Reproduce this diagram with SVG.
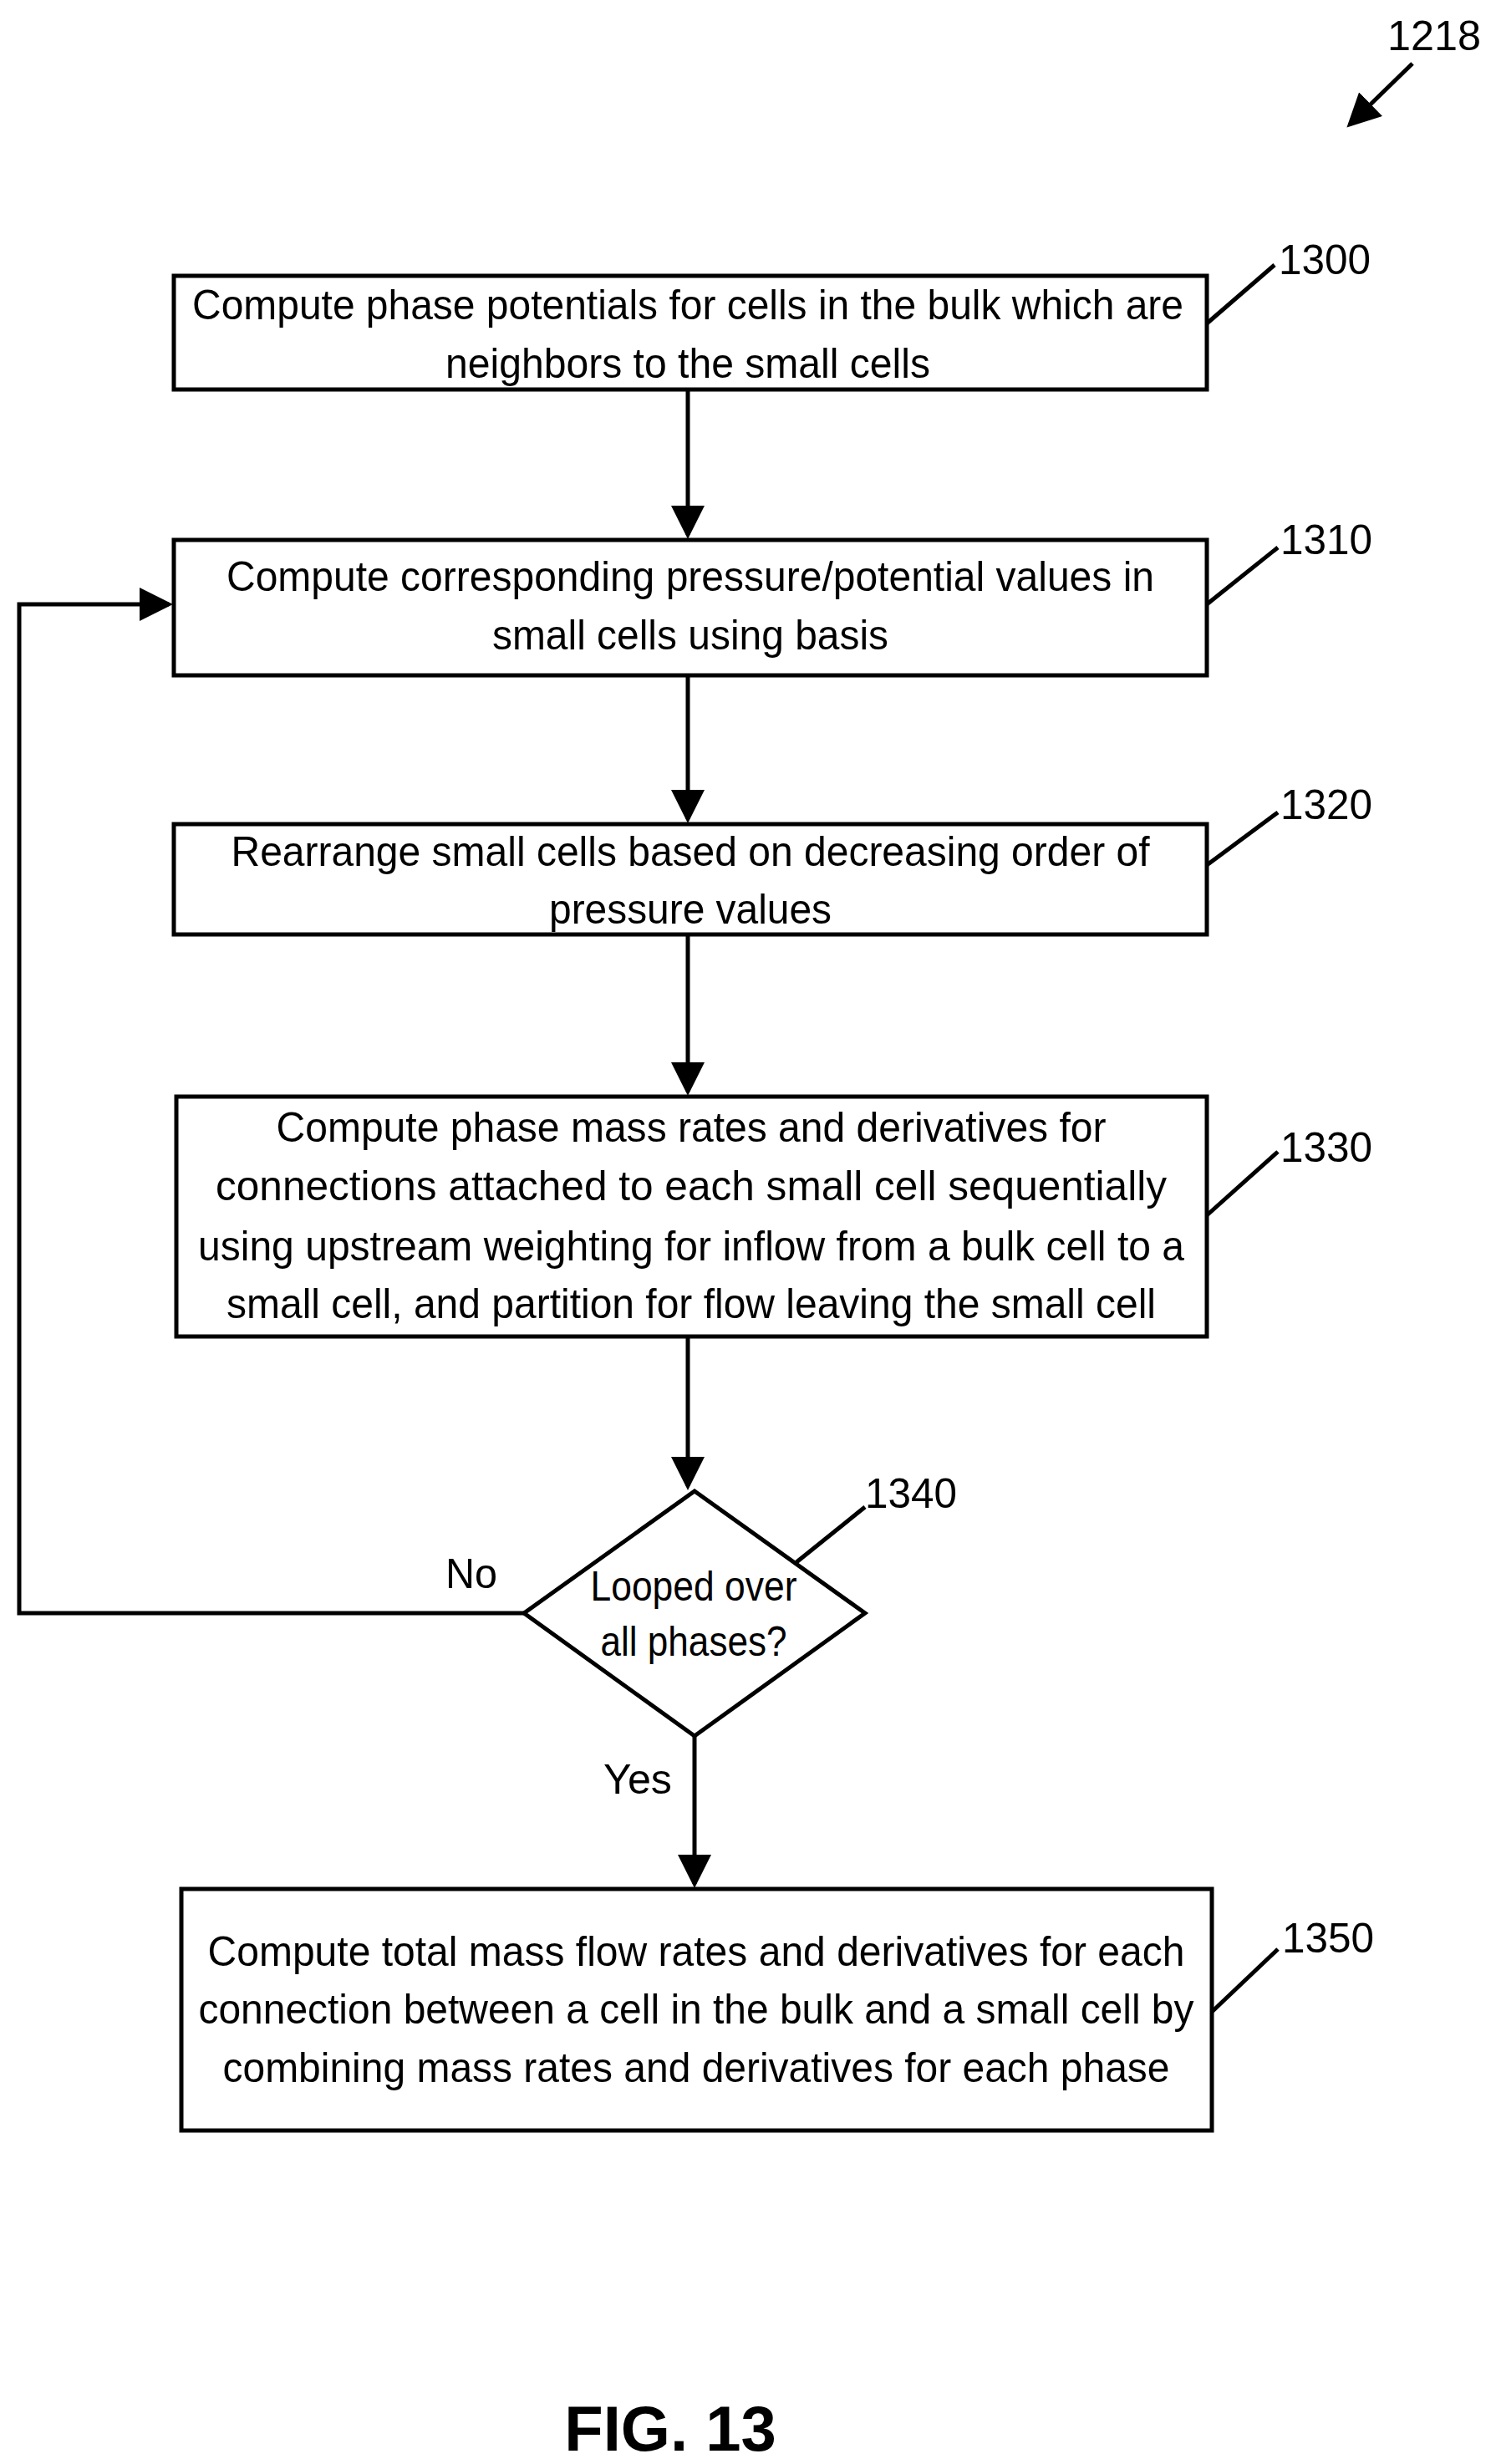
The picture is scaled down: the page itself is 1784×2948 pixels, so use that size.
<svg xmlns="http://www.w3.org/2000/svg" width="1784" height="2948" viewBox="0 0 1784 2948">
<style>
.b{fill:#fff;stroke:#000;stroke-width:5}
.t{font-family:"Liberation Sans",Arial,sans-serif;font-size:50px;text-anchor:middle}
.r{font-family:"Liberation Sans",Arial,sans-serif;font-size:50px}
.l{fill:none;stroke:#000;stroke-width:5}
</style>
<defs><marker id="a" markerWidth="8" markerHeight="8" refX="7" refY="4" orient="auto" markerUnits="strokeWidth"><path d="M0,0 L8,4 L0,8 Z" fill="#000"/></marker></defs>
<g id="connectors">
<line class="l" x1="823" y1="466" x2="823" y2="640" marker-end="url(#a)"/>
<line class="l" x1="823" y1="808" x2="823" y2="980" marker-end="url(#a)"/>
<line class="l" x1="823" y1="1118" x2="823" y2="1306" marker-end="url(#a)"/>
<line class="l" x1="823" y1="1599" x2="823" y2="1778" marker-end="url(#a)"/>
<line class="l" x1="831" y1="2077" x2="831" y2="2254" marker-end="url(#a)"/>
<polyline class="l" points="627,1930 23,1930 23,723 202,723" marker-end="url(#a)"/>
<line class="l" x1="1444" y1="387" x2="1525" y2="317"/>
<line class="l" x1="1444" y1="723" x2="1529" y2="655"/>
<line class="l" x1="1444" y1="1035" x2="1529" y2="972"/>
<line class="l" x1="1444" y1="1454" x2="1529" y2="1378"/>
<line class="l" x1="953" y1="1869" x2="1035" y2="1803"/>
<line class="l" x1="1450" y1="2407" x2="1529" y2="2332"/>
<line class="l" x1="1690" y1="76" x2="1615" y2="149" marker-end="url(#a)"/>
<text class="r" x="533" y="1900" textLength="62" lengthAdjust="spacingAndGlyphs">No</text>
<text class="r" x="722" y="2146" textLength="82" lengthAdjust="spacingAndGlyphs">Yes</text>
</g>
<text class="r" x="1660" y="60" textLength="112" lengthAdjust="spacingAndGlyphs">1218</text>
<g id="n1300"><rect class="b" x="208" y="330" width="1236" height="136"/>
<text class="t" x="823" y="382" textLength="1186" lengthAdjust="spacingAndGlyphs">Compute phase potentials for cells in the bulk which are</text>
<text class="t" x="823" y="452" textLength="580" lengthAdjust="spacingAndGlyphs">neighbors to the small cells</text>
<text class="r" x="1530" y="328" textLength="110" lengthAdjust="spacingAndGlyphs">1300</text></g>
<g id="n1310"><rect class="b" x="208" y="646" width="1236" height="162"/>
<text class="t" x="826" y="707" textLength="1110" lengthAdjust="spacingAndGlyphs">Compute corresponding pressure/potential values in</text>
<text class="t" x="826" y="777" textLength="474" lengthAdjust="spacingAndGlyphs">small cells using basis</text>
<text class="r" x="1532" y="663" textLength="110" lengthAdjust="spacingAndGlyphs">1310</text></g>
<g id="n1320"><rect class="b" x="208" y="986" width="1236" height="132"/>
<text class="t" x="826" y="1036" textLength="1099" lengthAdjust="spacingAndGlyphs">Rearrange small cells based on decreasing order of</text>
<text class="t" x="826" y="1105" textLength="338" lengthAdjust="spacingAndGlyphs">pressure values</text>
<text class="r" x="1532" y="980" textLength="110" lengthAdjust="spacingAndGlyphs">1320</text></g>
<g id="n1330"><rect class="b" x="211" y="1312" width="1233" height="287"/>
<text class="t" x="827" y="1366" textLength="993" lengthAdjust="spacingAndGlyphs">Compute phase mass rates and derivatives for</text>
<text class="t" x="827" y="1436" textLength="1138" lengthAdjust="spacingAndGlyphs">connections attached to each small cell sequentially</text>
<text class="t" x="827" y="1508" textLength="1180" lengthAdjust="spacingAndGlyphs">using upstream weighting for inflow from a bulk cell to a</text>
<text class="t" x="827" y="1577" textLength="1112" lengthAdjust="spacingAndGlyphs">small cell, and partition for flow leaving the small cell</text>
<text class="r" x="1532" y="1390" textLength="110" lengthAdjust="spacingAndGlyphs">1330</text></g>
<g id="n1340"><polygon class="b" points="831,1784 1035,1930 831,2077 627,1930"/>
<text class="t" x="830" y="1915" textLength="247" lengthAdjust="spacingAndGlyphs">Looped over</text>
<text class="t" x="830" y="1981" textLength="223" lengthAdjust="spacingAndGlyphs">all phases?</text>
<text class="r" x="1035" y="1804" textLength="110" lengthAdjust="spacingAndGlyphs">1340</text></g>
<g id="n1350"><rect class="b" x="217" y="2260" width="1233" height="289"/>
<text class="t" x="833" y="2352" textLength="1169" lengthAdjust="spacingAndGlyphs">Compute total mass flow rates and derivatives for each</text>
<text class="t" x="833" y="2421" textLength="1191" lengthAdjust="spacingAndGlyphs">connection between a cell in the bulk and a small cell by</text>
<text class="t" x="833" y="2491" textLength="1133" lengthAdjust="spacingAndGlyphs">combining mass rates and derivatives for each phase</text>
<text class="r" x="1534" y="2336" textLength="110" lengthAdjust="spacingAndGlyphs">1350</text></g>
<text x="802" y="2932" font-family="Liberation Sans,Arial,sans-serif" font-size="76" font-weight="bold" text-anchor="middle">FIG. 13</text>
</svg>
